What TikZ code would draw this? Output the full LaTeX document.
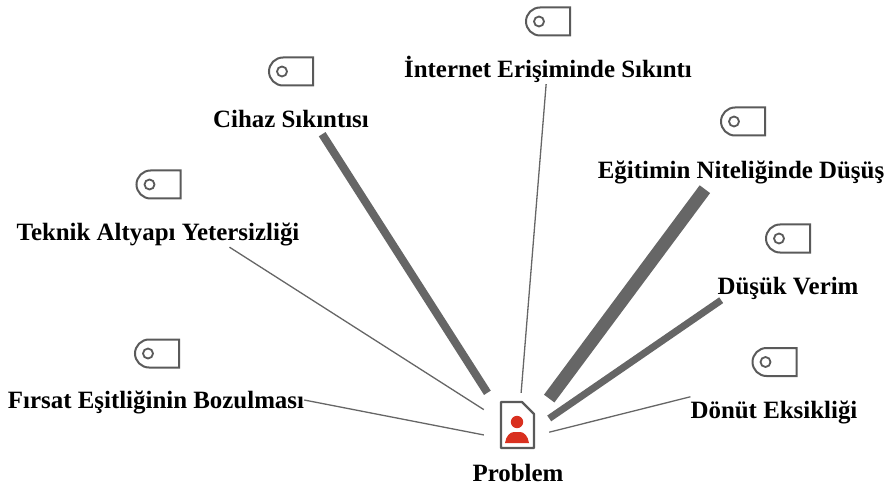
\documentclass[tikz,border=0pt]{standalone}
\usepackage{fontspec}
\setmainfont{Liberation Serif}
\definecolor{linegray}{HTML}{666666}
\definecolor{icongray}{HTML}{5A5A5A}
\definecolor{iconred}{HTML}{D9301F}
\tikzset{
  lbl/.style={font=\fontsize{24.9}{26}\selectfont\bfseries, inner sep=0pt, minimum height=30pt, text height=20pt, text depth=3pt, text=black},
  conn/.style={draw=linegray, line width=#1, line cap=butt},
  tagicon/.pic={
    \draw[icongray, line width=2pt] (22,-14) -- (22,14) -- (-8,14) arc[start angle=90,end angle=270,radius=14] -- cycle;
    \draw[icongray, line width=1.8pt] (-9,0) circle[radius=5];
  }
}
\begin{document}
\begin{tikzpicture}[x=1pt,y=-1pt]
\useasboundingbox (0,0) rectangle (885,486);
\node[minimum width=65pt, minimum height=52pt, inner sep=0pt] (problem) at (516.5,419) {};
\draw[icongray, line width=2.2pt, fill=white, line join=round] (501,402) -- (522,402) -- (534,414) -- (534,448) -- (501,448) -- cycle;
\fill[iconred] (517,422) circle[radius=6.2];
\fill[iconred] (505,443) .. controls (506,436) and (510,432) .. (514,432) -- (520,432) .. controls (524,432) and (528,436) .. (529,443) -- cycle;
\node[lbl] (plabel) at (518,473) {Problem};

\node[lbl] (internet) at (548,69) {İnternet Erişiminde Sıkıntı};
\node[lbl] (cihaz) at (291,119) {Cihaz Sıkıntısı};
\node[lbl] (teknik) at (158,232) {Teknik Altyapı Yetersizliği};
\node[lbl] (firsat) at (156,400) {Fırsat Eşitliğinin Bozulması};
\node[lbl, minimum height=38pt] (egitim) at (741,170) {Eğitimin Niteliğinde Düşüş};
\node[lbl, minimum height=28pt] (dusuk) at (788,286) {Düşük Verim};
\node[lbl] (donut) at (774,410) {Dönüt Eksikliği};

\draw[conn=1.3pt] (internet.-97.6) -- (problem.80.2);
\draw[conn=8pt] (cihaz.-26.6) -- (problem.138.6);
\draw[conn=1.3pt] (teknik.-12.1) -- (problem.164.5);
\draw[conn=1.3pt] (firsat.east) -- (problem.206.2);
\draw[conn=13pt] (egitim.-152.2) -- (problem.32.9);
\draw[conn=7pt] (dusuk.-168.7) -- (problem.1.8);
\draw[conn=1.3pt] (donut.171.7) -- (problem.-22.6);

\pic at (548,21.5) {tagicon};
\pic at (291,71.5) {tagicon};
\pic at (158.5,184.5) {tagicon};
\pic at (157,353.5) {tagicon};
\pic at (743,121.5) {tagicon};
\pic at (788,238.5) {tagicon};
\pic at (774.5,362) {tagicon};
\end{tikzpicture}
\end{document}
